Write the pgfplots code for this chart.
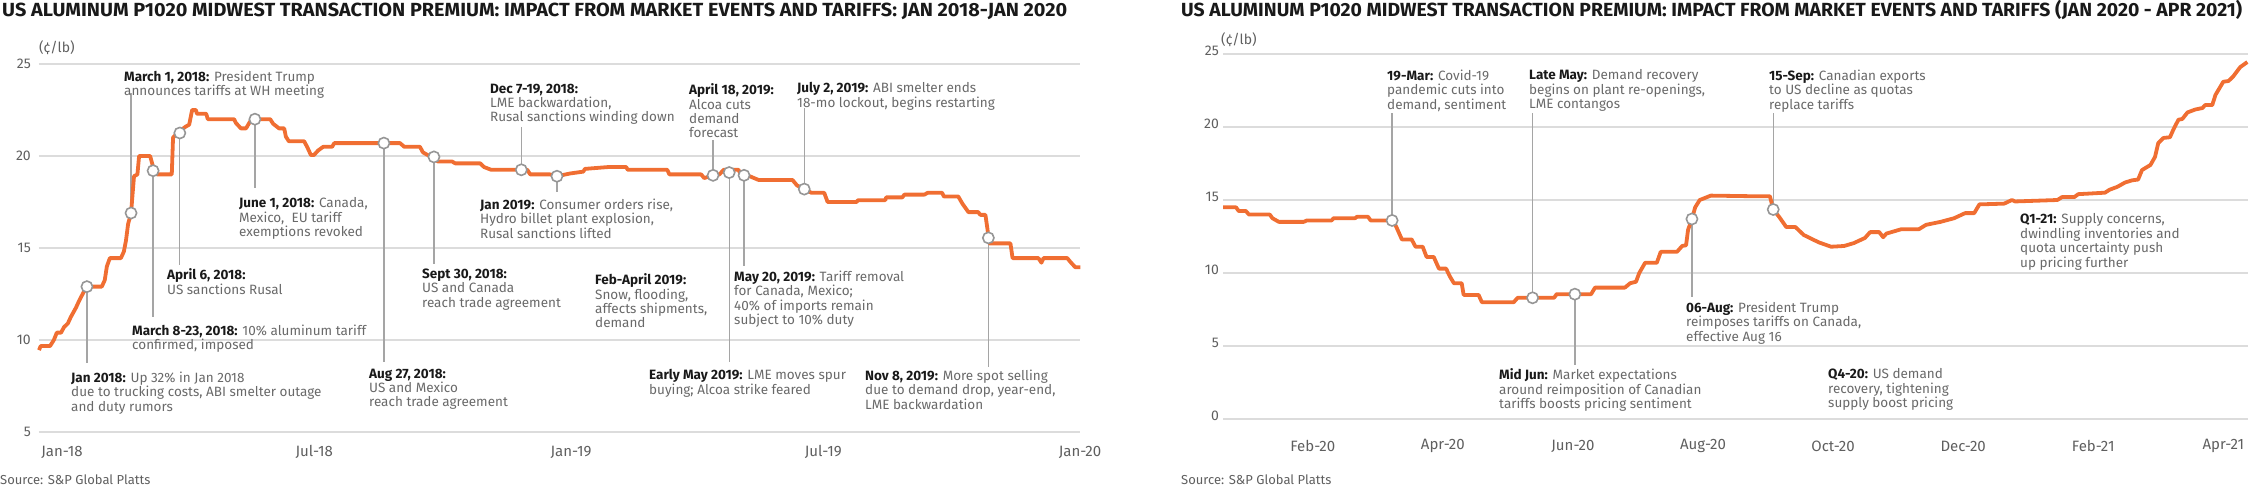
\documentclass[border=0pt]{standalone}
\usepackage{pgfplots}
\pgfplotsset{compat=1.18}
\usepackage{fontspec}
\setmainfont{Fira Sans}
\definecolor{orng}{RGB}{240,110,50}
\definecolor{gridc}{RGB}{220,220,220}
\definecolor{txtg}{RGB}{105,105,105}
\definecolor{tickg}{RGB}{95,95,95}
\definecolor{leadc}{RGB}{165,165,165}
\definecolor{circc}{RGB}{150,150,150}
\definecolor{blk}{RGB}{25,25,25}
\newsavebox\tbox
\newcommand\fitw[2]{\sbox\tbox{#2}\pgfmathsetmacro\sx{#1/\the\wd\tbox}\scalebox{\sx}[1]{\usebox\tbox}}
\newcommand\annfont{\fontsize{13.5}{14.4}\selectfont}
\newcommand\B[1]{{\bfseries\color{blk}#1}}
\newcommand\ann[3]{\node[anchor=north west, inner sep=0pt, align=left, font=\annfont, text=txtg] at (#1pt,{(494.5-#2)*1pt}) {#3};}
\pgfplotsset{mystyle/.style={
  scale only axis, clip=false,
  axis line style={draw=none}, tick style={draw=none},
  major tick length=0pt,
  ymajorgrids, grid style={gridc, line width=1.3pt},
  tick label style={text=tickg},
  xticklabel style={font=\fontsize{15}{17}\selectfont},
  yticklabel style={font=\fontsize{14}{16}\selectfont},
  /pgf/number format/assume math mode=true,
  xticklabel style={anchor=center, inner sep=0pt},
  yticklabel style={anchor=east, inner sep=0pt},
}}
\tikzset{lead/.style={leadc, line width=1.3pt},
  circ/.style={only marks, mark=*, mark size=5.6pt, mark options={fill=white, draw=circc, line width=1.6pt}},
  prem/.style={orng, line width=3.8pt, line join=round}}
\begin{document}
\begin{tikzpicture}
% ---------------- LEFT PANEL ----------------
\begin{axis}[mystyle, at={(39pt,58pt)}, anchor=south west,
  width=1041pt, height=368pt,
  xmin=-0.54, xmax=24, ymin=5, ymax=25,
  ytick={5,10,15,20,25},
  xtick={0,5.95,12,17.95,24},
  xticklabels={Jan-18,Jul-18,Jan-19,Jul-19,Jan-20},
  xticklabel style={yshift=-20pt},
  yticklabel style={xshift=-8pt}]
\draw[lead] (axis cs:0.59,12.9) -- (axis cs:0.59,8.75);
\draw[lead] (axis cs:1.63,16.9) -- (axis cs:1.63,23.42);
\draw[lead] (axis cs:2.15,19.2) -- (axis cs:2.15,11.25);
\draw[lead] (axis cs:2.78,21.25) -- (axis cs:2.78,14.08);
\draw[lead] (axis cs:4.55,22.0) -- (axis cs:4.55,18.26);
\draw[lead] (axis cs:7.59,20.7) -- (axis cs:7.59,8.8);
\draw[lead] (axis cs:8.77,19.95) -- (axis cs:8.77,14.13);
\draw[lead] (axis cs:10.83,19.25) -- (axis cs:10.83,21.58);
\draw[lead] (axis cs:11.67,18.9) -- (axis cs:11.67,18.04);
\draw[lead] (axis cs:15.35,18.95) -- (axis cs:15.35,20.87);
\draw[lead] (axis cs:15.73,19.1) -- (axis cs:15.73,8.8);
\draw[lead] (axis cs:16.08,18.95) -- (axis cs:16.08,14.02);
\draw[lead] (axis cs:17.50,18.2) -- (axis cs:17.50,22.6);
\draw[lead] (axis cs:21.84,15.55) -- (axis cs:21.84,8.53);
\addplot[prem] coordinates {
(-0.54,9.45) (-0.50,9.67) (-0.28,9.67) (-0.19,10.0) (-0.12,10.4) (-0.02,10.4) (0.05,10.7) (0.14,10.9) (0.21,11.25) (0.33,11.75) (0.40,12.1) (0.50,12.55) (0.59,12.9) (0.94,12.9) (1.01,13.25) (1.06,14.0) (1.13,14.45) (1.39,14.45) (1.46,14.8) (1.51,15.4) (1.56,16.3) (1.63,16.9) (1.70,18.9) (1.78,19.0) (1.82,20.0) (2.08,20.0) (2.15,19.4) (2.24,19.0) (2.59,19.0) (2.62,21.0) (2.75,21.3) (2.92,21.6) (3.00,21.7) (3.07,22.5) (3.16,22.5) (3.18,22.3) (3.40,22.3) (3.44,22.0) (4.06,22.0) (4.10,21.8) (4.22,21.5) (4.34,21.5) (4.43,21.85) (4.55,22.0) (4.91,22.0) (4.98,21.75) (5.12,21.5) (5.24,21.5) (5.28,21.05) (5.35,20.8) (5.71,20.8) (5.78,20.5) (5.87,20.05) (5.94,20.05) (6.04,20.3) (6.16,20.5) (6.37,20.5) (6.42,20.7) (7.97,20.7) (8.07,20.5) (8.44,20.5) (8.51,20.2) (8.66,20.0) (8.77,19.95) (8.86,19.7) (9.20,19.7) (9.27,19.6) (9.86,19.6) (9.95,19.4) (10.12,19.25) (10.97,19.25) (11.04,19.0) (11.51,19.0) (11.67,18.9) (11.98,19.05) (12.29,19.15) (12.33,19.3) (12.88,19.4) (13.30,19.4) (13.34,19.25) (14.27,19.25) (14.32,19.0) (15.07,19.0) (15.14,18.8) (15.35,18.95) (15.5,19.0) (15.6,19.25) (15.95,19.25) (16.0,19.0) (16.11,19.0) (16.42,18.7) (17.22,18.7) (17.33,18.4) (17.50,18.2) (17.67,18.0) (17.97,18.0) (18.05,17.5) (18.73,17.5) (18.77,17.6) (19.41,17.6) (19.43,17.75) (19.81,17.75) (19.86,17.9) (20.33,17.9) (20.41,18.0) (20.75,18.0) (20.79,17.8) (21.13,17.8) (21.23,17.4) (21.37,16.95) (21.60,16.95) (21.65,16.8) (21.77,16.8) (21.82,16.0) (21.84,15.55) (21.86,15.25) (22.36,15.25) (22.41,14.45) (23.02,14.45) (23.09,14.2) (23.14,14.45) (23.70,14.45) (23.77,14.25) (23.89,13.95) (24.01,13.95)
};
\addplot[circ] coordinates {
(0.59,12.9) (1.63,16.9) (2.15,19.2) (2.78,21.25) (4.55,22.0) (7.59,20.7) (8.77,19.95) (10.83,19.25) (11.67,18.9) (15.35,18.95) (15.73,19.1) (16.08,18.95) (17.50,18.2) (21.84,15.55)
};
\end{axis}
% ---------------- RIGHT PANEL ----------------
\begin{axis}[mystyle, at={(1223pt,71pt)}, anchor=south west,
  width=1025pt, height=365pt,
  xmin=-0.38, xmax=15.38, ymin=0, ymax=25,
  ytick={0,5,10,15,20,25},
  xtick={1,3,5,7,9,11,13,15},
  xticklabels={Feb-20,Apr-20,Jun-20,Aug-20,Oct-20,Dec-20,Feb-21,Apr-21},
  xticklabel style={yshift=-27pt},
  yticklabel style={xshift=-4pt, yshift=3.5pt}]
\draw[lead] (axis cs:2.22,13.6) -- (axis cs:2.22,20.96);
\draw[lead] (axis cs:4.38,8.3) -- (axis cs:4.38,20.96);
\draw[lead] (axis cs:5.03,8.55) -- (axis cs:5.03,3.7);
\draw[lead] (axis cs:6.83,13.7) -- (axis cs:6.83,8.36);
\draw[lead] (axis cs:8.08,14.35) -- (axis cs:8.08,20.96);
\addplot[prem] coordinates {
(-0.38,14.5) (-0.18,14.5) (-0.14,14.25) (-0.03,14.25) (0.02,14.0) (0.34,14.0) (0.38,13.75) (0.48,13.5) (0.86,13.5) (0.91,13.6) (1.29,13.6) (1.32,13.75) (1.65,13.75) (1.68,13.85) (1.85,13.85) (1.89,13.6) (2.22,13.6) (2.28,13.2) (2.37,12.3) (2.52,12.3) (2.58,11.8) (2.69,11.8) (2.75,11.1) (2.86,11.1) (2.94,10.3) (3.05,10.3) (3.11,9.75) (3.17,9.3) (3.29,9.3) (3.32,8.5) (3.55,8.5) (3.60,8.0) (4.09,8.0) (4.15,8.3) (4.71,8.3) (4.75,8.55) (5.28,8.55) (5.34,9.0) (5.80,9.0) (5.88,9.3) (5.97,9.4) (6.02,10.0) (6.11,10.7) (6.29,10.7) (6.35,11.45) (6.60,11.45) (6.68,11.85) (6.74,11.9) (6.77,12.95) (6.83,13.7) (6.88,14.5) (6.95,15.0) (7.12,15.3) (7.89,15.25) (8.03,15.25) (8.08,14.35) (8.17,13.85) (8.28,13.15) (8.42,13.15) (8.55,12.6) (8.78,12.1) (8.97,11.8) (9.17,11.85) (9.32,12.05) (9.49,12.4) (9.57,12.8) (9.71,12.8) (9.77,12.45) (9.82,12.7) (10.05,13.0) (10.32,13.0) (10.43,13.3) (10.65,13.5) (10.86,13.75) (11.03,14.1) (11.17,14.1) (11.25,14.7) (11.63,14.75) (11.75,15.0) (11.80,14.9) (12.45,15.0) (12.52,15.2) (12.71,15.2) (12.77,15.4) (13.18,15.5) (13.25,15.7) (13.37,15.9) (13.49,16.2) (13.60,16.35) (13.69,16.4) (13.75,17.05) (13.88,17.4) (13.95,17.95) (14.00,18.9) (14.08,19.25) (14.18,19.3) (14.23,19.8) (14.31,20.5) (14.37,20.55) (14.45,21.0) (14.57,21.2) (14.68,21.3) (14.72,21.5) (14.83,21.5) (14.88,22.2) (15.00,23.1) (15.08,23.15) (15.15,23.45) (15.26,24.1) (15.37,24.45)
};
\addplot[circ] coordinates {
(2.22,13.6) (4.38,8.3) (5.03,8.55) (6.83,13.7) (8.08,14.35)
};
\end{axis}
% ---------------- TITLES & TEXT ----------------
\node[anchor=base west, inner sep=0pt, font=\fontsize{19}{22}\selectfont\bfseries, text=blk] at (2pt,473pt)
  {\fitw{1065}{US ALUMINUM P1020 MIDWEST TRANSACTION PREMIUM: IMPACT FROM MARKET EVENTS AND TARIFFS: JAN 2018-JAN 2020}};
\node[anchor=base west, inner sep=0pt, font=\fontsize{19}{22}\selectfont\bfseries, text=blk] at (1181pt,473pt)
  {\fitw{1061}{US ALUMINUM P1020 MIDWEST TRANSACTION PREMIUM: IMPACT FROM MARKET EVENTS AND TARIFFS (JAN 2020 - APR 2021)}};
\node[anchor=west, inner sep=0pt, font=\fontsize{14}{16}\selectfont, text=tickg] at (39pt,442pt) {(¢/lb)};
\node[anchor=west, inner sep=0pt, font=\fontsize{14}{16}\selectfont, text=tickg] at (1221pt,450pt) {(¢/lb)};
\node[anchor=west, inner sep=0pt, font=\fontsize{13}{15}\selectfont, text=tickg] at (0pt,10pt) {Source: S\&P Global Platts};
\node[anchor=west, inner sep=0pt, font=\fontsize{13}{15}\selectfont, text=tickg] at (1181pt,10pt) {Source: S\&P Global Platts};
% left annotations
\ann{71}{376}{\B{Jan 2018:} Up 32\% in Jan 2018\\due to trucking costs, ABI smelter outage\\and duty rumors}
\ann{124}{75}{\B{March 1, 2018:} President Trump\\announces tariffs at WH meeting}
\ann{132}{329}{\B{March 8-23, 2018:} 10\% aluminum tariff\\confirmed, imposed}
\ann{167}{273}{\B{April 6, 2018:}\\US sanctions Rusal}
\ann{239}{202}{\B{June 1, 2018:} Canada,\\Mexico,\ \ EU tariff\\exemptions revoked}
\ann{369}{373}{\B{Aug 27, 2018:}\\US and Mexico\\reach trade agreement}
\ann{422}{273}{\B{Sept 30, 2018:}\\US and Canada\\reach trade agreement}
\ann{490}{88}{\B{Dec 7-19, 2018:}\\LME backwardation,\\Rusal sanctions winding down}
\ann{480}{203}{\B{Jan 2019:} Consumer orders rise,\\Hydro billet plant explosion,\\Rusal sanctions lifted}
\ann{689}{88}{\B{April 18, 2019:}\\Alcoa cuts\\demand\\forecast}
\ann{649}{374}{\B{Early May 2019:} LME moves spur\\buying; Alcoa strike feared}
\ann{734}{275}{\B{May 20, 2019:} Tariff removal\\for Canada, Mexico;\\40\% of imports remain\\subject to 10\% duty}
\ann{797}{87}{\B{July 2, 2019:} ABI smelter ends\\18-mo lockout, begins restarting}
\ann{865}{374}{\B{Nov 8, 2019:} More spot selling\\due to demand drop, year-end,\\LME backwardation}
\ann{595}{278}{\B{Feb-April 2019:}\\Snow, flooding,\\affects shipments,\\demand}
% right annotations
\ann{1387}{74}{\B{19-Mar:} Covid-19\\pandemic cuts into\\demand, sentiment}
\ann{1529}{74}{\B{Late May:} Demand recovery\\begins on plant re-openings,\\LME contangos}
\ann{1499}{373}{\B{Mid Jun:} Market expectations\\around reimposition of Canadian\\tariffs boosts pricing sentiment}
\ann{1686}{306}{\B{06-Aug:} President Trump\\reimposes tariffs on Canada,\\effective Aug 16}
\ann{1769}{74}{\B{15-Sep:} Canadian exports\\to US decline as quotas\\replace tariffs}
\ann{2020}{218}{\B{Q1-21:} Supply concerns,\\dwindling inventories and\\quota uncertainty push\\up pricing further}
\ann{1828}{373}{\B{Q4-20:} US demand\\recovery, tightening\\supply boost pricing}
\pgfresetboundingbox
\path[use as bounding box] (0pt,0pt) rectangle (2249pt,490pt);
\end{tikzpicture}
\end{document}
